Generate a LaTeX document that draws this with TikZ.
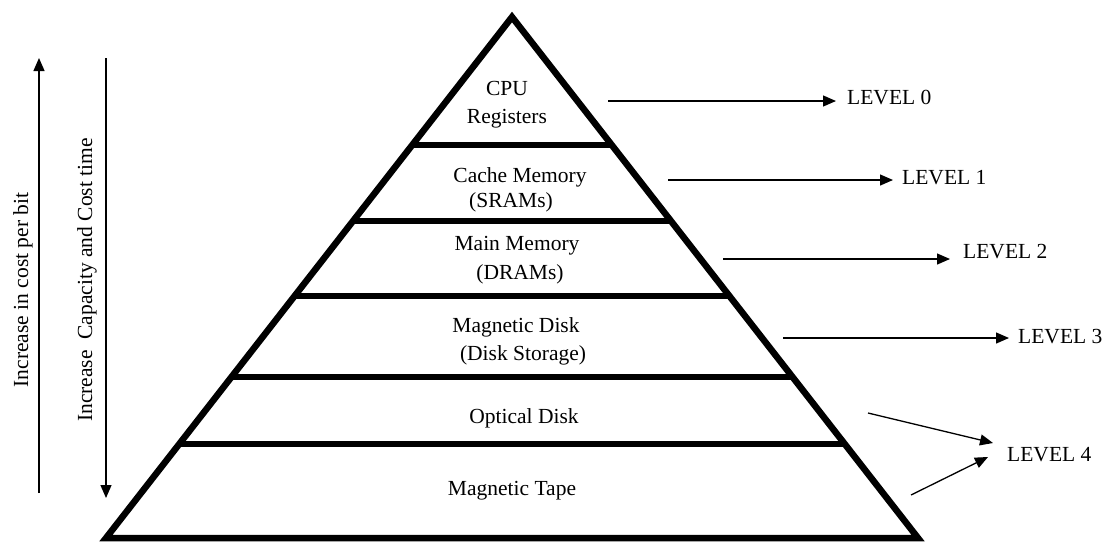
\documentclass[tikz,border=0pt]{standalone}
\usepackage{fontspec}
\setmainfont{Liberation Serif}
\usetikzlibrary{arrows.meta,calc}

\tikzset{
  pyr/.style={line width=6.5pt, line join=miter},
  band/.style={line width=6.5pt},
  thinarrow/.style={line width=1.3pt, -{Triangle[length=13pt,width=11pt]}},
  lbl/.style={inner sep=0pt, anchor=base, font=\fontsize{21.5}{26}\selectfont},
  lvl/.style={inner sep=0pt, anchor=west, font=\fontsize{21.5}{26}\selectfont},
  side/.style={inner sep=0pt, rotate=90, font=\fontsize{21.5}{26}\selectfont}
}

\begin{document}
\begin{tikzpicture}[x=1pt,y=-1pt]
\useasboundingbox (0,0) rectangle (1106,542);

% pyramid outline
\coordinate (apex) at (512,17);
\coordinate (bl) at (106,538);
\coordinate (br) at (918,538);
\draw[pyr] (bl) -- (apex) -- (br) -- cycle;

% level dividers
\foreach \t in {0.2457,0.3916,0.5355,0.6910,0.8196}
  \draw[band] ($(apex)!\t!(bl)$) -- ($(apex)!\t!(br)$);

% layer labels
\node[lbl] (cpu1) at (507,95) {CPU};
\node[lbl] (cpu2) at (507,123) {Registers};
\node[lbl] (cache1) at (520,182) {Cache Memory};
\node[lbl] (cache2) at (511,207) {(SRAMs)};
\node[lbl] (main1) at (517,250) {Main Memory};
\node[lbl] (main2) at (520,279) {(DRAMs)};
\node[lbl] (disk1) at (516,332) {Magnetic Disk};
\node[lbl] (disk2) at (523,360) {(Disk Storage)};
\node[lbl] (opt) at (524,423) {Optical Disk};
\node[lbl] (tape) at (512,495) {Magnetic Tape};

% level names
\node[lvl] (lv0) at (847,98) {LEVEL 0};
\node[lvl] (lv1) at (902,178) {LEVEL 1};
\node[lvl] (lv2) at (963,252) {LEVEL 2};
\node[lvl] (lv3) at (1018,337) {LEVEL 3};
\node[lvl] (lv4) at (1007,455) {LEVEL 4};

% arrows to the level names
\coordinate (s0) at (608,101);
\coordinate (s1) at (668,180);
\coordinate (s2) at (723,259);
\coordinate (s3) at (783,338);
\draw[thinarrow, shorten >=11pt] (s0) -- (s0 -| lv0.west);
\draw[thinarrow, shorten >=9pt] (s1) -- (s1 -| lv1.west);
\draw[thinarrow, shorten >=13pt] (s2) -- (s2 -| lv2.west);
\draw[thinarrow, shorten >=9pt] (s3) -- (s3 -| lv3.west);

\coordinate (s4a) at (868,413);
\coordinate (t4a) at (993,443);
\coordinate (s4b) at (911,495);
\coordinate (t4b) at (988,457);
\draw[thinarrow] (s4a) -- (t4a);
\draw[thinarrow] (s4b) -- (t4b);

% side arrows and captions
\coordinate (c1b) at (39,493);
\coordinate (c1t) at (39,58);
\coordinate (c2t) at (106,58);
\coordinate (c2b) at (106,498);
\draw[thinarrow] (c1b) -- (c1t);
\draw[thinarrow] (c2t) -- (c2b);
\node[side] (cap1) at (23,290) {Increase in cost per bit};
\node[side] (cap2) at (87,280) {Increase\ \ Capacity and Cost time};
\end{tikzpicture}
\end{document}
